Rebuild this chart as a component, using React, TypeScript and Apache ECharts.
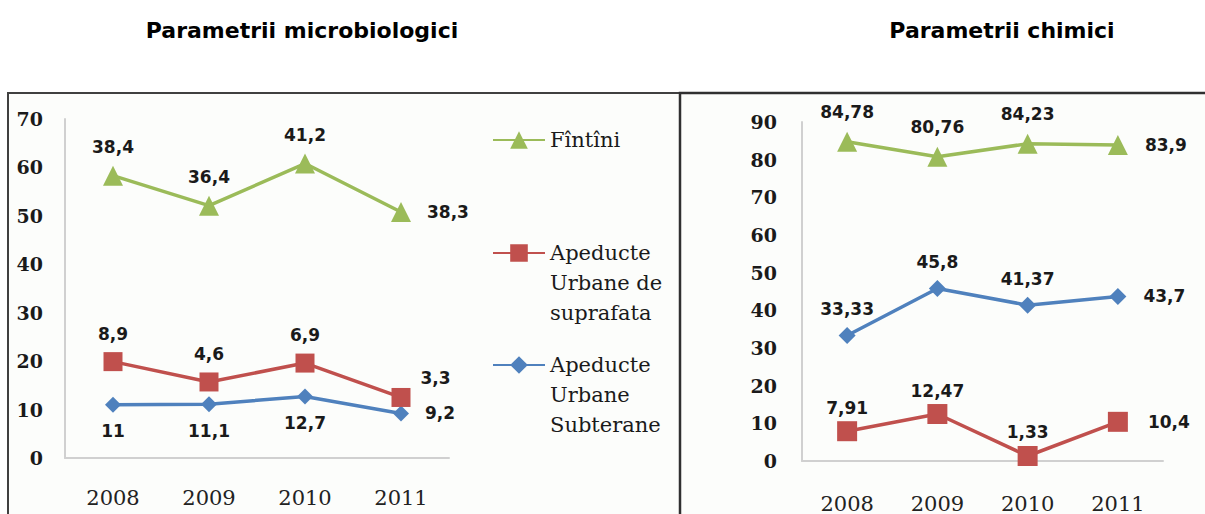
import React, { useEffect, useRef } from "react";
import * as echarts from "echarts";

const years = ["2008", "2009", "2010", "2011"];

const microTitle = "Parametrii microbiologici";
const chimTitle = "Parametrii chimici";

const nameFintini = "Fîntîni";
const nameSuprafata = "Apeducte\nUrbane de\nsuprafata";
const nameSubterane = "Apeducte\nUrbane\nSubterane";

// microbiological (stacked in the original chart)
const microSubterane = [11, 11.1, 12.7, 9.2];
const microSuprafata = [8.9, 4.6, 6.9, 3.3];
const microFintini = [38.4, 36.4, 41.2, 38.3];

// chemical
const chimFintini = [84.78, 80.76, 84.23, 83.9];
const chimSubterane = [33.33, 45.8, 41.37, 43.7];
const chimSuprafata = [7.91, 12.47, 1.33, 10.4];

const microMax = 70;
const chimMax = 90;

const GREEN = "#9bbb59";
const RED = "#c0504d";
const BLUE = "#4f81bd";

const labelFont = {
  fontFamily: "DejaVu Sans",
  fontWeight: "bold" as const,
  fontSize: 17,
  color: "#1a1a1a",
};

const fmt = (p: any) => String(p.value).replace(".", ",");

function buildData(arr: number[], lastLabel: any) {
  return arr.map((v, i) => (i === arr.length - 1 ? { value: v, label: lastLabel } : v));
}

function mkSeries(
  name: string,
  arr: number[],
  color: string,
  symbol: string,
  symbolSize: number,
  idx: number,
  position: string,
  distance: number,
  lastLabel: any,
  stack?: string
) {
  return {
    type: "line",
    name,
    xAxisIndex: idx,
    yAxisIndex: idx,
    stack,
    data: buildData(arr, lastLabel),
    symbol,
    symbolSize,
    showAllSymbol: true,
    lineStyle: { color, width: 3.5 },
    itemStyle: { color },
    label: { show: true, position, distance, formatter: fmt, ...labelFont },
    emphasis: { disabled: true },
  };
}

export default function App() {
  const ref = useRef<HTMLDivElement>(null);

  useEffect(() => {
    if (!ref.current) return;
    const chart = echarts.init(ref.current, undefined, { renderer: "svg" });

    const axisLine = { show: true, lineStyle: { color: "#d0d0d0", width: 2 } };
    const yLabel = {
      fontFamily: "DejaVu Serif",
      fontWeight: "bold" as const,
      fontSize: 19,
      color: "#1a1a1a",
    };
    const xLabel = { fontFamily: "DejaVu Serif", fontSize: 21, color: "#222" };

    const legendText = {
      fontFamily: "DejaVu Serif",
      fontSize: 21,
      lineHeight: 30,
      color: "#1a1a1a",
    };
    const legendBase = {
      left: 492,
      orient: "vertical",
      itemWidth: 52,
      itemHeight: 22,
      padding: 0,
      selectedMode: false,
      textStyle: legendText,
    };
    // multi-line names: pad with blank lines above so the first line sits on the icon
    const firstLineOnIcon = (name: string) => "\n\n" + name;

    const option: any = {
      animation: false,
      backgroundColor: "#ffffff",
      title: [
        {
          text: microTitle,
          left: 302,
          top: 19,
          padding: 0,
          textAlign: "center",
          textStyle: { fontFamily: "DejaVu Sans", fontWeight: "bold", fontSize: 22, color: "#000" },
        },
        {
          text: chimTitle,
          left: 1002,
          top: 19,
          padding: 0,
          textAlign: "center",
          textStyle: { fontFamily: "DejaVu Sans", fontWeight: "bold", fontSize: 22, color: "#000" },
        },
      ],
      graphic: [
        {
          type: "rect",
          z: -10,
          silent: true,
          shape: { x: 8, y: 93, width: 672, height: 440 },
          style: { fill: "#fcfdfb", stroke: "#404040", lineWidth: 2 },
        },
        {
          type: "rect",
          z: -10,
          silent: true,
          shape: { x: 680, y: 93, width: 540, height: 440 },
          style: { fill: "#fcfdfb", stroke: "#303030", lineWidth: 2.5 },
        },
      ],
      legend: [
        { ...legendBase, top: 125, data: [nameFintini] },
        { ...legendBase, top: 178, data: [nameSuprafata], formatter: firstLineOnIcon },
        { ...legendBase, top: 290, data: [nameSubterane], formatter: firstLineOnIcon },
      ],
      grid: [
        { left: 65, top: 119, width: 384, height: 339 },
        { left: 802, top: 122, width: 361, height: 340 },
      ],
      xAxis: [
        {
          type: "category",
          gridIndex: 0,
          data: years,
          boundaryGap: true,
          axisLine,
          axisTick: { show: false },
          axisLabel: { ...xLabel, margin: 29 },
        },
        {
          type: "category",
          gridIndex: 1,
          data: years,
          boundaryGap: true,
          axisLine,
          axisTick: { show: false },
          axisLabel: { ...xLabel, margin: 32 },
        },
      ],
      yAxis: [
        {
          type: "value",
          gridIndex: 0,
          min: 0,
          max: microMax,
          interval: 10,
          axisLine,
          axisTick: { show: false },
          splitLine: { show: false },
          axisLabel: { ...yLabel, margin: 22 },
        },
        {
          type: "value",
          gridIndex: 1,
          min: 0,
          max: chimMax,
          interval: 10,
          axisLine,
          axisTick: { show: false },
          splitLine: { show: false },
          axisLabel: { ...yLabel, margin: 25 },
        },
      ],
      series: [
        mkSeries(nameSubterane, microSubterane, BLUE, "diamond", 16, 0, "bottom", 10,
          { position: "right", distance: 16 }, "micro"),
        mkSeries(nameSuprafata, microSuprafata, RED, "rect", 19, 0, "top", 10,
          { position: "right", distance: 10, offset: [0, -19] }, "micro"),
        mkSeries(nameFintini, microFintini, GREEN, "triangle", 20, 0, "top", 10,
          { position: "right", distance: 16 }, "micro"),
        mkSeries(nameFintini, chimFintini, GREEN, "triangle", 20, 1, "top", 11,
          { position: "right", distance: 17 }),
        mkSeries(nameSubterane, chimSubterane, BLUE, "diamond", 17, 1, "top", 9,
          { position: "right", distance: 17 }),
        mkSeries(nameSuprafata, chimSuprafata, RED, "rect", 20, 1, "top", 5,
          { position: "right", distance: 20 }),
      ],
    };

    chart.setOption(option);
    return () => chart.dispose();
  }, []);

  return (
    <div
      ref={ref}
      style={{ position: "absolute", left: 0, top: 0, width: 1205, height: 514 }}
    />
  );
}
